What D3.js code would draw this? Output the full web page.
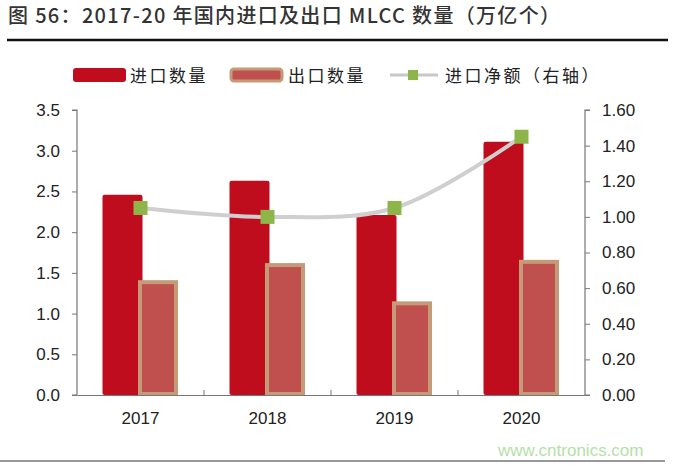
<!DOCTYPE html>
<html><head><meta charset="utf-8">
<script src="https://cdn.jsdelivr.net/npm/d3@7"></script>
<style>body{margin:0;background:#fff}svg{display:block}</style>
</head><body>
<svg id="c" width="682" height="466"></svg>
<script>
const categories = ["2017", "2018", "2019", "2020"];
const importQty = [2.46, 2.63, 2.21, 3.11];
const exportQty = [1.41, 1.62, 1.15, 1.66];
const netImport = [1.05, 1.00, 1.05, 1.45];
const leftTicks = [0, 0.5, 1.0, 1.5, 2.0, 2.5, 3.0, 3.5];
const rightTicks = [0, 0.2, 0.4, 0.6, 0.8, 1.0, 1.2, 1.4, 1.6];

const svg = d3.select("#c");
const L = 77, R = 585, T = 110, B = 395;
const x = d3.scaleBand().domain(categories).range([L, R]);
const yL = d3.scaleLinear().domain([0, 3.5]).range([B, T]);
const yR = d3.scaleLinear().domain([0, 1.6]).range([B, T]);
const font = "Arial, 'Liberation Sans', sans-serif";
const cjk = "'Noto Sans CJK SC', sans-serif";

// Title
svg.append("text").attr("x", 8).attr("y", 23).attr("font-family", cjk)
  .attr("font-size", 20).attr("font-weight", 500).attr("fill", "#333")
  .attr("textLength", 552).attr("lengthAdjust", "spacing")
  .text("图 56：2017-20 年国内进口及出口 MLCC 数量（万亿个）");
svg.append("line").attr("x1", 7).attr("x2", 668).attr("y1", 40).attr("y2", 40)
  .attr("stroke", "#111").attr("stroke-width", 2.5);

// Legend
const lg = svg.append("g").attr("font-family", cjk).attr("font-size", 17).attr("fill", "#222").attr("letter-spacing", 2.5);
lg.append("rect").attr("x", 73).attr("y", 68).attr("width", 53).attr("height", 14).attr("rx", 3).attr("fill", "#c00d1e");
lg.append("text").attr("x", 130).attr("y", 82).text("进口数量");
lg.append("rect").attr("x", 231).attr("y", 69).attr("width", 51).attr("height", 12).attr("rx", 3)
  .attr("fill", "#c0504d").attr("stroke", "#c49a78").attr("stroke-width", 3);
lg.append("text").attr("x", 288).attr("y", 82).text("出口数量");
lg.append("line").attr("x1", 390).attr("x2", 438).attr("y1", 75).attr("y2", 75).attr("stroke", "#c8c8c8").attr("stroke-width", 3);
lg.append("rect").attr("x", 408).attr("y", 70).attr("width", 10).attr("height", 10).attr("fill", "#8db54a");
lg.append("text").attr("x", 445).attr("y", 82).text("进口净额（右轴）");

// Bars
const bw = 40;
svg.append("g").selectAll("rect").data(categories).join("rect")
  .attr("x", d => x(d) + x.bandwidth() / 2 - 38)
  .attr("y", (d, i) => yL(importQty[i]))
  .attr("width", bw).attr("height", (d, i) => B - yL(importQty[i]))
  .attr("rx", 2).attr("fill", "#c00d1e");
svg.append("g").selectAll("rect").data(categories).join("rect")
  .attr("x", d => x(d) + x.bandwidth() / 2 - 0.5)
  .attr("y", (d, i) => yL(exportQty[i]) + 2)
  .attr("width", 36).attr("height", (d, i) => B - yL(exportQty[i]) - 3)
  .attr("fill", "#c0504d").attr("stroke", "#c49a78").attr("stroke-width", 4);

// Axes
const axL = d3.axisLeft(yL).tickValues(leftTicks).tickFormat(d3.format(".1f")).tickSize(5).tickPadding(12);
const gL = svg.append("g").attr("transform", `translate(${L},0)`).call(axL);
const axR = d3.axisRight(yR).tickValues(rightTicks).tickFormat(d3.format(".2f")).tickSize(5).tickPadding(12);
const gR = svg.append("g").attr("transform", `translate(${R},0)`).call(axR);
const axB = d3.axisBottom(x).tickSize(0).tickPadding(17);
const gB = svg.append("g").attr("transform", `translate(0,${B})`).call(axB);
[gL, gR, gB].forEach(g => {
  g.selectAll("path").attr("stroke", "#777").attr("stroke-width", 1.2);
  g.selectAll("line").attr("stroke", "#777");
  g.selectAll("text").attr("font-family", font).attr("font-size", 17).attr("fill", "#222");
});
gL.selectAll("path").attr("d", `M-5,${T}H0V${B}H-5`);
gR.selectAll("path").attr("d", `M5,${T}H0V${B}H5`);
// category separators
svg.append("g").selectAll("line").data(categories.slice(1)).join("line")
  .attr("x1", d => x(d)).attr("x2", d => x(d)).attr("y1", B).attr("y2", B - 5)
  .attr("stroke", "#777");

// Line
const pts = categories.map((c, i) => [x(c) + x.bandwidth() / 2, yR(netImport[i])]);
svg.append("path").attr("d", d3.line().curve(d3.curveCatmullRom.alpha(0.5))(pts))
  .attr("fill", "none").attr("stroke", "#cfcfcf").attr("stroke-width", 4);
svg.append("g").selectAll("rect").data(pts).join("rect")
  .attr("x", d => d[0] - 7).attr("y", d => d[1] - 7).attr("width", 14).attr("height", 14)
  .attr("fill", "#8db54a");

// Watermark & bottom line
svg.append("line").attr("x1", 0).attr("x2", 665).attr("y1", 461).attr("y2", 461).attr("stroke", "#777").attr("stroke-width", 1.5);
svg.append("text").attr("x", 498).attr("y", 456).attr("font-family", font).attr("font-size", 17)
  .attr("fill", "#b5e0a8").text("www.cntronics.com");
</script>
</body></html>
